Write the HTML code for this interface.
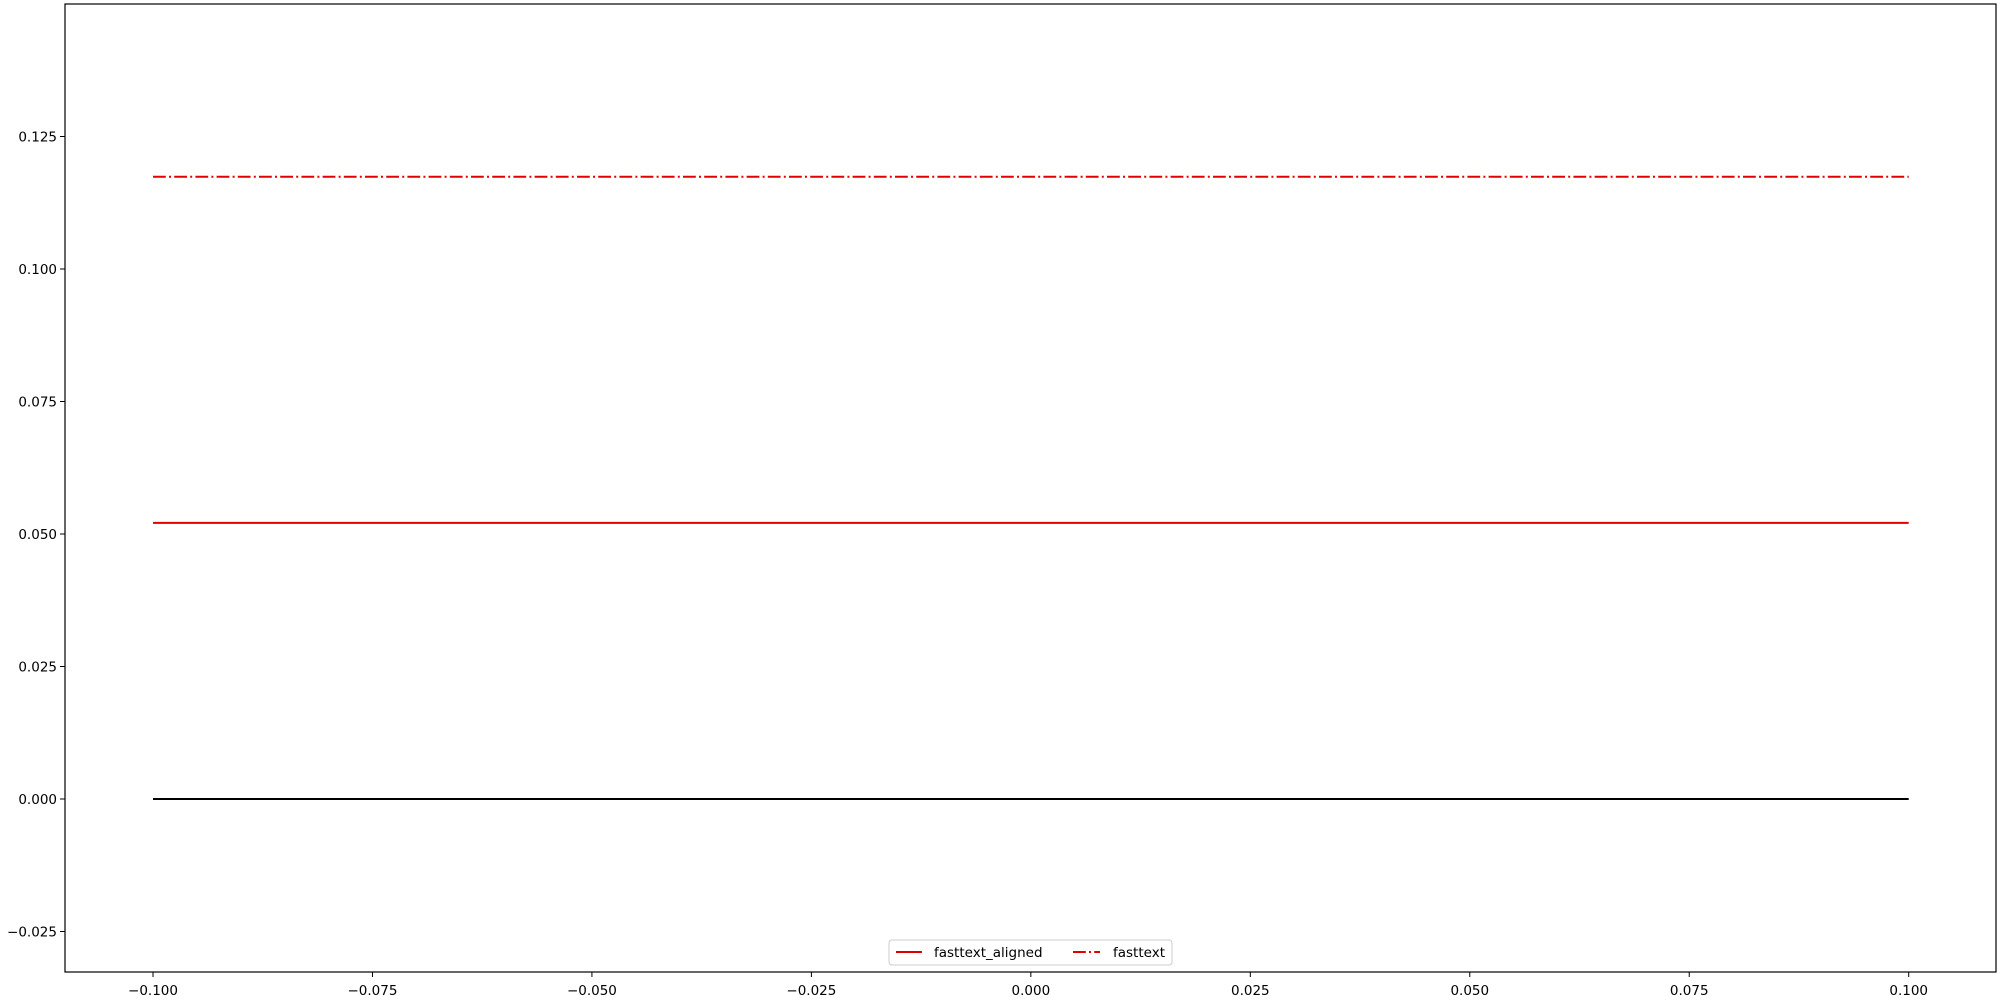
<!DOCTYPE html>
<html><head><meta charset="utf-8"><style>
html,body{margin:0;padding:0;background:#fff;}
svg{display:block;font-family:"DejaVu Sans","Liberation Sans",sans-serif;}
</style></head><body>
<svg id="chart" width="2000" height="1000"></svg>
<script>
const xTicks=[-0.1,-0.075,-0.05,-0.025,0,0.025,0.05,0.075,0.1];
const yTicks=[-0.025,0,0.025,0.05,0.075,0.1,0.125];
const seriesNames=["fasttext_aligned","fasttext","baseline"];
const seriesX=[-0.1,0.1];
const alignedY=[0.0521,0.0521];
const fasttextY=[0.1174,0.1174];
const baselineY=[0,0];
const L=65,R=1996,T=4,B=972;
const FS=13.5;
const sx=v=>153+(v+0.1)*(1908.7-153)/0.2;
const sy=v=>799-v*5300;
const NS="http://www.w3.org/2000/svg";
const svg=document.getElementById('chart');
function mk(t,a){const e=document.createElementNS(NS,t);for(const k in a)e.setAttribute(k,a[k]);svg.appendChild(e);return e;}
function fmt(v){const s=Math.abs(v).toFixed(3);return (v<-1e-9?"\u2212":"")+s;}
xTicks.forEach(v=>{
 const x=sx(v);
 const t=mk('line',{x1:x,x2:x,y1:B,y2:B+5,stroke:'#000','stroke-width':1});
 
 
 const l=mk('text',{x:x,y:B+23,'text-anchor':'middle','font-size':FS});
 l.textContent=fmt(v);
 
 
});
yTicks.forEach(v=>{
 const y=sy(v);
 const t=mk('line',{x1:L-5,x2:L,y1:y,y2:y,stroke:'#000','stroke-width':1});
 
 
 const l=mk('text',{x:L-8,y:y+5,'text-anchor':'end','font-size':FS});
 l.textContent=fmt(v);
 
 
});
function line(ys,color,dash,name){
 const p=mk('polyline',{points:seriesX.map((x,i)=>sx(x)+','+sy(ys[i])).join(' '),fill:'none',stroke:color,'stroke-width':2,'stroke-dasharray':dash||'none'});
 
 
}
line(baselineY,'#000',null,'baseline-zero-line');
line(alignedY,'#e00000',null,'fasttext-aligned-line');
line(fasttextY,'#e00000','12.8,3.2,2,3.2','fasttext-line');
const ax=mk('rect',{x:L,y:T,width:R-L,height:B-T,fill:'none',stroke:'#000','stroke-width':1.2});


const lg=mk('rect',{x:889,y:940,width:283,height:25,rx:3,fill:'#fff','fill-opacity':0.8,stroke:'#ccc','stroke-width':1});


const l1=mk('line',{x1:896,x2:922,y1:952,y2:952,stroke:'#e00000','stroke-width':2});


const t1=mk('text',{x:934,y:957,'font-size':FS});t1.textContent=seriesNames[0];


const l2=mk('line',{x1:1073,x2:1100,y1:952,y2:952,stroke:'#e00000','stroke-width':2,'stroke-dasharray':'12.8,3.2,2,3.2'});


const t2=mk('text',{x:1113,y:957,'font-size':FS});t2.textContent=seriesNames[1];


</script>
</body></html>
